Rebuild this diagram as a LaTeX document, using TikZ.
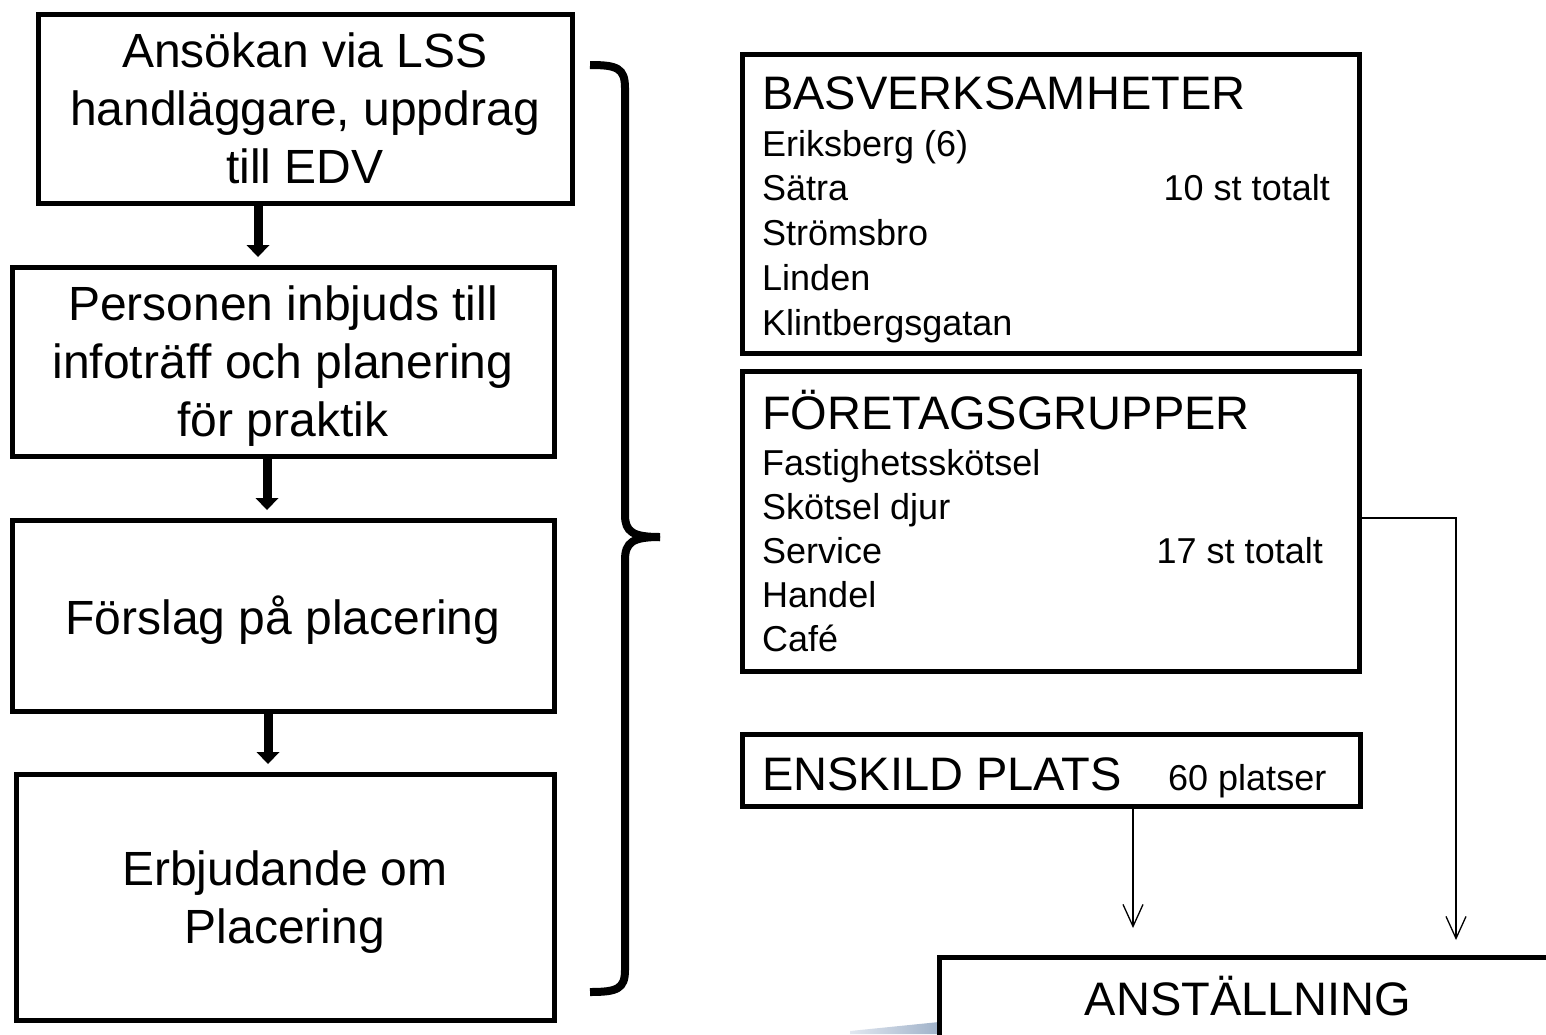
\documentclass[tikz,border=0pt]{standalone}
\usepackage{fontspec}
\setmainfont{Liberation Sans}
\usetikzlibrary{arrows.meta}
\begin{document}
\begin{tikzpicture}[x=1pt,y=-1pt,
  box/.style={draw, line width=5pt, inner sep=0pt, outer sep=0pt},
  lefttext/.style={align=center, text depth=0pt, font=\fontsize{48}{58}\selectfont},
  titletext/.style={anchor=base west, inner sep=0pt, font=\fontsize{47}{56}\selectfont},
  itemtext/.style={anchor=base west, inner sep=0pt, font=\fontsize{36}{43}\selectfont},
  bigarrow/.style={line width=9pt, -{Triangle[length=12pt,width=23pt,line width=0pt]}, shorten >=10pt},
  thinarrow/.style={line width=1.3pt, -{Straight Barb[length=22pt,width=20pt,line width=1.3pt]}},
  bracestyle/.style={line width=8pt, line cap=butt}
]
\clip (0,0) rectangle (1546,1034);
\fill[white] (0,0) rectangle (1546,1034);

% left column
\node[box, lefttext, minimum width=534pt, minimum height=189pt] (b1) at (305,108.5) {Ansökan via LSS\\handläggare, uppdrag\\till EDV};
\node[box, lefttext, minimum width=542pt, minimum height=189pt] (b2) at (283,361.5) {Personen inbjuds till\\infoträff och planering\\för praktik};
\node[box, lefttext, minimum width=542pt, minimum height=191pt] (b3) at (283,615.5) {Förslag på placering};
\node[box, lefttext, minimum width=538pt, minimum height=246pt] (b4) at (285,897) {Erbjudande om\\Placering};

\draw[bigarrow] ([xshift=-47pt]b1.south) -- ([xshift=-47pt]b1.south |- b2.north);
\draw[bigarrow] ([xshift=-16pt]b2.south) -- ([xshift=-16pt]b2.south |- b3.north);
\draw[bigarrow] ([xshift=-15pt]b3.south) -- ([xshift=-15pt]b3.south |- b4.north);

% brace
\draw[bracestyle] (590,65) .. controls (617,65) and (625,68) .. (625,88) -- (625,515) .. controls (625,532) and (633,537) .. (660,537);
\draw[bracestyle] (660,537) .. controls (633,537) and (625,542) .. (625,560) -- (625,970) .. controls (625,989) and (617,992) .. (590,992);

% right column
\node[box, minimum width=617pt, minimum height=299pt] (r1) at (1050.5,203.5) {};
\node[titletext] (r1t) at (762,109) {BASVERKSAMHETER};
\node[itemtext] (r1a) at (762,156) {Eriksberg (6)};
\node[itemtext] (r1b) at (762,200) {Sätra};
\node[itemtext] (r1c) at (762,245) {Strömsbro};
\node[itemtext] (r1d) at (762,290) {Linden};
\node[itemtext] (r1e) at (762,335) {Klintbergsgatan};
\node[itemtext, anchor=base east] (r1n) at (1330,200) {10 st totalt};

\node[box, minimum width=617pt, minimum height=300pt] (r2) at (1050.5,521) {};
\node[titletext] (r2t) at (762,429) {FÖRETAGSGRUPPER};
\node[itemtext] (r2a) at (762,475) {Fastighetsskötsel};
\node[itemtext] (r2b) at (762,519) {Skötsel djur};
\node[itemtext] (r2c) at (762,563) {Service};
\node[itemtext] (r2d) at (762,607) {Handel};
\node[itemtext] (r2e) at (762,651) {Café};
\node[itemtext, anchor=base east] (r2n) at (1323,563) {17 st totalt};

\node[box, minimum width=618pt, minimum height=72pt] (r3) at (1051,770) {};
\node[titletext] (r3t) at (762,790) {ENSKILD PLATS};
\node[itemtext] (r3n) at (1168,790) {60 platser};

\shade[left color={rgb,255:red,225;green,231;blue,240}, right color={rgb,255:red,160;green,178;blue,201}]
  (850,1031) -- (939,1022) -- (939,1034) -- (850,1034) -- cycle;

\node[box, minimum width=621pt, minimum height=143pt] (r4) at (1249.5,1028.5) {};
\node[inner sep=0pt, anchor=base, font=\fontsize{47}{56}\selectfont] (r4t) at (1248,1015) {ANSTÄLLNING};

\coordinate (e1) at (1133,928);
\coordinate (e2) at (1456,940);
\draw[thinarrow] ([xshift=82pt]r3.south) -- (e1);
\draw[thinarrow] ([yshift=3pt]r2.east) -| (e2);
\end{tikzpicture}
\end{document}
